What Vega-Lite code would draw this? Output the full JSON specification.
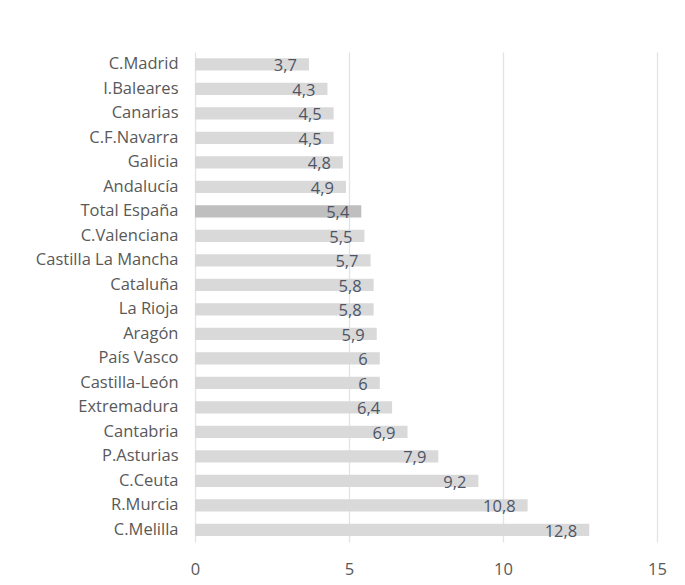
{
  "$schema": "https://vega.github.io/schema/vega-lite/v6.json",
  "autosize": "none",
  "width": 462,
  "height": 490,
  "padding": {"left": 195, "top": 52, "right": 28, "bottom": 43},
  "background": "white",
  "config": {
    "locale": {"number": {"decimal": ",", "thousands": ".", "grouping": [3], "currency": ["", " €"]}},
    "view": {"stroke": null},
    "font": "Open Sans"
  },
  "data": {"values": [
    {"region": "C.Madrid", "value": 3.7, "total": false},
    {"region": "I.Baleares", "value": 4.3, "total": false},
    {"region": "Canarias", "value": 4.5, "total": false},
    {"region": "C.F.Navarra", "value": 4.5, "total": false},
    {"region": "Galicia", "value": 4.8, "total": false},
    {"region": "Andalucía", "value": 4.9, "total": false},
    {"region": "Total España", "value": 5.4, "total": true},
    {"region": "C.Valenciana", "value": 5.5, "total": false},
    {"region": "Castilla La Mancha", "value": 5.7, "total": false},
    {"region": "Cataluña", "value": 5.8, "total": false},
    {"region": "La Rioja", "value": 5.8, "total": false},
    {"region": "Aragón", "value": 5.9, "total": false},
    {"region": "País Vasco", "value": 6, "total": false},
    {"region": "Castilla-León", "value": 6, "total": false},
    {"region": "Extremadura", "value": 6.4, "total": false},
    {"region": "Cantabria", "value": 6.9, "total": false},
    {"region": "P.Asturias", "value": 7.9, "total": false},
    {"region": "C.Ceuta", "value": 9.2, "total": false},
    {"region": "R.Murcia", "value": 10.8, "total": false},
    {"region": "C.Melilla", "value": 12.8, "total": false}
  ]},
  "encoding": {
    "y": {"field": "region", "type": "nominal", "sort": null,
      "scale": {"paddingInner": 0.5, "paddingOuter": 0.25},
      "axis": {"title": null, "ticks": false, "domain": false, "labelPadding": 17, "labelFontSize": 16.5, "labelColor": "#595959", "labelFont": "Open Sans"}},
    "x": {"field": "value", "type": "quantitative",
      "scale": {"domain": [0, 15], "nice": false},
      "axis": {"title": null, "values": [0, 5, 10, 15], "ticks": false, "domain": false, "grid": true, "gridColor": "#dfe3ea", "gridWidth": 1.3, "labelPadding": 19, "labelFontSize": 16.5, "labelColor": "#595959", "labelFont": "Open Sans", "labelFlush": false}}
  },
  "layer": [
    {"mark": {"type": "bar"},
     "encoding": {"color": {"field": "total", "type": "nominal", "scale": {"domain": [false, true], "range": ["#d9d9d9", "#bfbfbf"]}, "legend": null}}},
    {"mark": {"type": "text", "align": "right", "baseline": "middle", "dx": -12, "dy": 2, "fontSize": 16.5, "color": "#4d5566", "font": "Open Sans"},
     "encoding": {"text": {"field": "value", "type": "quantitative", "format": ".1~f"}}}
  ]
}
